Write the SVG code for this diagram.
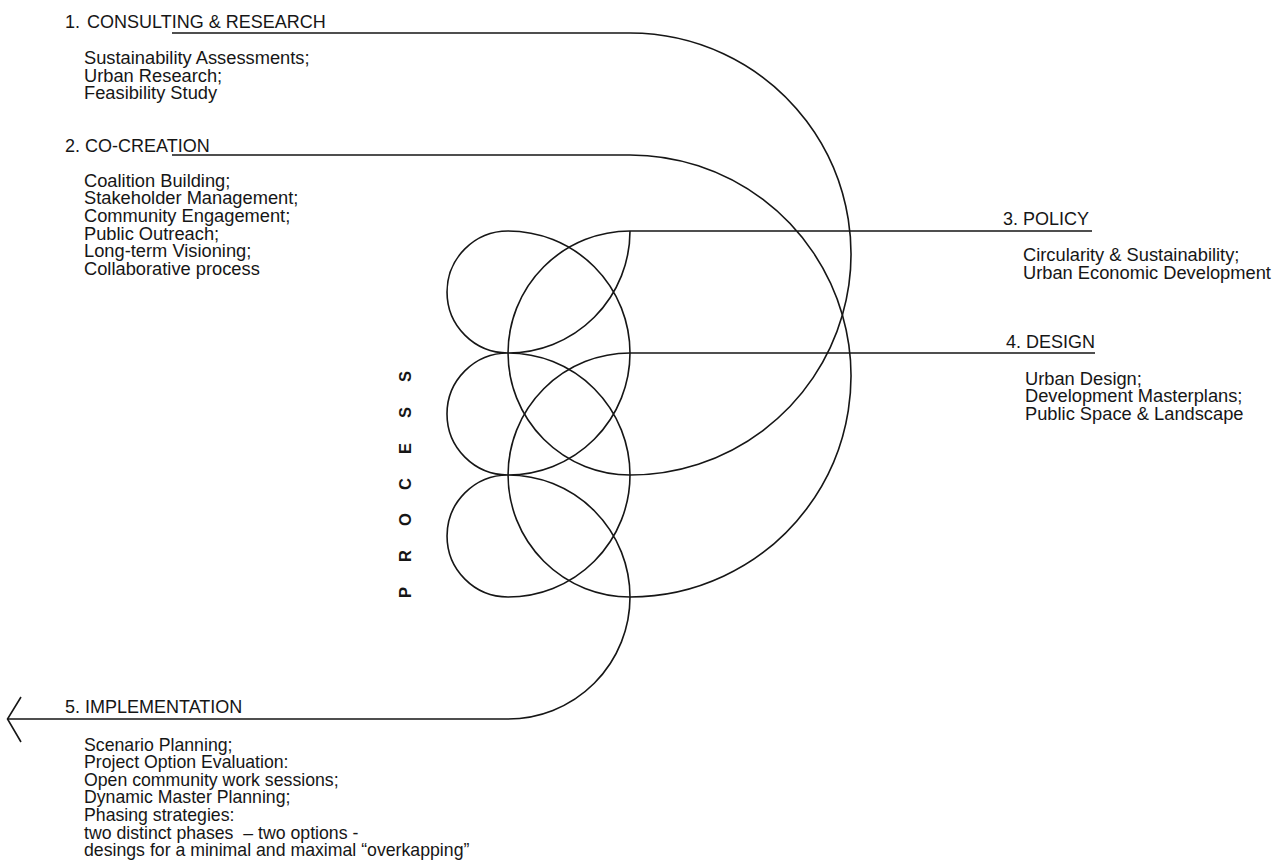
<svg xmlns="http://www.w3.org/2000/svg" width="1280" height="860" viewBox="0 0 1280 860">
  <style>
    .bg { fill: #ffffff; }
    .ln { fill: none; stroke: #161616; stroke-width: 1.6; stroke-linecap: butt; stroke-linejoin: miter; }
    .hd { font-family: "Liberation Sans", Arial, Helvetica, sans-serif; font-size: 18px; fill: #161616; white-space: pre; }
    .bd { font-family: "Liberation Sans", Arial, Helvetica, sans-serif; font-size: 18.3px; fill: #161616; white-space: pre; }
    .bi { font-family: "Liberation Sans", Arial, Helvetica, sans-serif; font-size: 17.7px; fill: #161616; white-space: pre; }
    .pr { font-family: "Liberation Sans", Arial, Helvetica, sans-serif; font-size: 16.5px; font-weight: bold; fill: #161616; }
  </style>
  <rect class="bg" x="0" y="0" width="1280" height="860"/>

  <g id="connectors">
    <!-- 1. Consulting & Research: outer arc, into the left semicircle, out as DESIGN line -->
    <path id="c-consulting" class="ln" d="M172,33 H630 A221,221 0 0 1 842.4,315 A221,221 0 0 1 630,597 A122,122 0 0 1 630,353 H1095"/>
    <!-- 2. Co-creation: inner arc, into the left semicircle, out as POLICY line -->
    <path id="c-cocreation" class="ln" d="M172,155 H630 A221,221 0 0 1 842.4,315 A221,221 0 0 1 630,475 A122,122 0 0 1 630,231 H1092"/>
    <!-- Process coil leading to implementation -->
    <path id="c-process" class="ln" d="M630,231 A122,122 0 0 1 508,353 A61,61 0 0 1 508,231 A122,122 0 0 1 630,353 A122,122 0 0 1 508,475 A61,61 0 0 1 508,353 A122,122 0 0 1 630,475 A122,122 0 0 1 508,597 A61,61 0 0 1 508,475 A122,122 0 0 1 630,597 A122,122 0 0 1 508,719 H7.5"/>
    <polyline id="c-arrow" class="ln" points="21,697 7.5,719 21,742"/>
  </g>

  <g id="node-consulting">
    <text class="hd" x="65" y="28.3">1. <tspan x="87">CONSULTING &amp; RESEARCH</tspan></text>
    <text class="bd" x="84" y="64"><tspan x="84" y="64">Sustainability Assessments;</tspan><tspan x="84" y="81.6">Urban Research;</tspan><tspan x="84" y="99.2">Feasibility Study</tspan></text>
  </g>

  <g id="node-cocreation">
    <text class="hd" x="65" y="151.5">2. CO-CREATION</text>
    <text class="bd" x="84" y="186.7"><tspan x="84" y="186.7">Coalition Building;</tspan><tspan x="84" y="204.3">Stakeholder Management;</tspan><tspan x="84" y="221.9">Community Engagement;</tspan><tspan x="84" y="239.5">Public Outreach;</tspan><tspan x="84" y="257.1">Long-term Visioning;</tspan><tspan x="84" y="274.7">Collaborative process</tspan></text>
  </g>

  <g id="node-policy">
    <text class="hd" x="1003" y="225">3. POLICY</text>
    <text class="bd" x="1023" y="261"><tspan x="1023" y="261">Circularity &amp; Sustainability;</tspan><tspan x="1023" y="278.6">Urban Economic Development</tspan></text>
  </g>

  <g id="node-design">
    <text class="hd" x="1006" y="348">4. DESIGN</text>
    <text class="bd" x="1025" y="384.8"><tspan x="1025" y="384.8">Urban Design;</tspan><tspan x="1025" y="402.4">Development Masterplans;</tspan><tspan x="1025" y="420">Public Space &amp; Landscape</tspan></text>
  </g>

  <g id="node-process">
    <text class="pr" transform="translate(410.5,598) rotate(-90)" x="0 36 72 108 144 180 216" y="0">PROCESS</text>
  </g>

  <g id="node-implementation">
    <text class="hd" x="65" y="713.3">5. IMPLEMENTATION</text>
    <text class="bi" x="84" y="750.6"><tspan x="84" y="750.6">Scenario Planning;</tspan><tspan x="84" y="768.2">Project Option Evaluation:</tspan><tspan x="84" y="785.8">Open community work sessions;</tspan><tspan x="84" y="803.4">Dynamic Master Planning;</tspan><tspan x="84" y="821">Phasing strategies:</tspan><tspan x="84" y="838.6">two distinct phases  – two options -</tspan><tspan x="84" y="856.2">desings for a minimal and maximal “overkapping”</tspan></text>
  </g>
</svg>
